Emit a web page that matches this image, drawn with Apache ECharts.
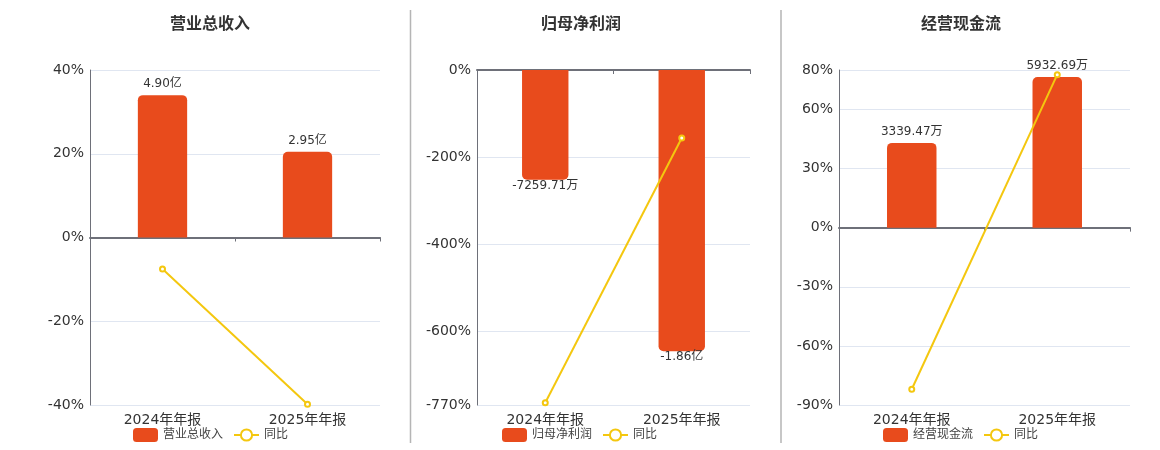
<!DOCTYPE html>
<html>
<head>
<meta charset="utf-8">
<script src="https://cdn.jsdelivr.net/npm/echarts@6/dist/echarts.min.js"></script>
<style>html,body{margin:0;padding:0;background:#fff}#c{width:1160px;height:450px}</style>
</head>
<body>
<div id="c"></div>
<script>
var categories = ['2024年年报', '2025年年报'];
var titles = ['营业总收入', '归母净利润', '经营现金流'];
// bar values in 万元
var revenue = [49000, 29500];
var netProfit = [-7259.71, -18600];
var cashFlow = [3339.47, 5932.69];
// year-on-year growth, %
var revenueYoy = [-7.5, -39.8];
var netProfitYoy = [-765, -156.2];
var cashFlowYoy = [-82, 77.65];
// percent axis ranges
var pctMin = [-40, -770, -90];
var pctMax = [40, 0, 80];

var FONT = 'DejaVu Sans, "Noto Sans CJK SC", sans-serif';
var BAR = '#E84B1C', LINE = '#F4C70F';

function fmtMoney(v) {
  if (Math.abs(v) >= 10000) return (v / 10000).toFixed(2) + '亿';
  return v.toFixed(2) + '万';
}

var panels = [
  {bars: revenue, yoy: revenueYoy, grid: {left: 90, right: 780}, bmin: -57650, bmax: 57650, tx: 205, lx: 128},
  {bars: netProfit, yoy: netProfitYoy, grid: {left: 477, right: 410}, bmin: -22150, bmax: 0, tx: 576, lx: 497},
  {bars: cashFlow, yoy: cashFlowYoy, grid: {left: 839, right: 30}, bmin: -6990, bmax: 6213, tx: 956, lx: 878}
];

var option = {
  animation: false,
  textStyle: {fontFamily: FONT},
  title: [], legend: [], grid: [], xAxis: [], yAxis: [], series: [],
  graphic: [
    {type: 'line', shape: {x1: 410.5, y1: 10, x2: 410.5, y2: 443}, style: {stroke: '#b5b5b5', lineWidth: 1.5}},
    {type: 'line', shape: {x1: 781, y1: 10, x2: 781, y2: 443}, style: {stroke: '#b5b5b5', lineWidth: 1.5}}
  ]
};

panels.forEach(function (p, i) {
  option.title.push({
    text: titles[i], left: p.tx, top: 12, textAlign: 'center',
    textStyle: {fontSize: 16, fontWeight: 'bold', color: '#333', fontFamily: FONT}
  });
  option.legend.push({
    left: p.lx, top: 423, itemWidth: 25, itemHeight: 14, itemGap: 10,
    textStyle: {fontSize: 12, color: '#444', fontFamily: FONT},
    data: [{name: titles[i], icon: 'roundRect'}, {name: '同比'}]
  });
  option.grid.push({left: p.grid.left, right: p.grid.right, top: 70, bottom: 45});
  // label axis at bottom
  option.xAxis.push({
    type: 'category', gridIndex: i, data: categories, position: 'bottom',
    axisLine: {show: false, onZero: false}, axisTick: {show: false},
    axisLabel: {fontSize: 14, color: '#333', margin: 8, fontFamily: FONT}
  });
  // zero line axis
  option.xAxis.push({
    type: 'category', gridIndex: i, data: categories, position: 'bottom',
    axisLine: {show: true, onZero: true, onZeroAxisIndex: i * 2, lineStyle: {color: '#6E7079', width: 2}},
    axisTick: {show: true, length: 4, lineStyle: {color: '#6E7079'}},
    axisLabel: {show: false}
  });
  option.yAxis.push({
    type: 'value', gridIndex: i, min: pctMin[i], max: pctMax[i],
    axisLine: {show: true, lineStyle: {color: '#6E7079'}},
    axisTick: {show: false},
    axisLabel: {formatter: '{value}%', fontSize: 14, color: '#333', margin: 6, fontFamily: FONT},
    splitLine: {lineStyle: {color: '#E0E6F1'}}
  });
  option.yAxis.push({
    type: 'value', gridIndex: i, min: p.bmin, max: p.bmax, show: false,
    splitLine: {show: false}
  });
  var neg = p.bars[0] < 0;
  option.series.push({
    name: titles[i], type: 'bar', xAxisIndex: i * 2, yAxisIndex: i * 2 + 1,
    data: p.bars, barWidth: '34%',
    itemStyle: {color: BAR, borderRadius: neg ? [0, 0, 5, 5] : [5, 5, 0, 0]},
    label: {
      show: true, position: neg ? 'bottom' : 'top', distance: neg ? 0 : 5,
      fontSize: 12, color: '#333', fontFamily: FONT,
      formatter: function (d) { return fmtMoney(d.value); }
    }
  });
  option.series.push({
    name: '同比', type: 'line', xAxisIndex: i * 2, yAxisIndex: i * 2,
    data: p.yoy, symbol: 'emptyCircle', symbolSize: 5,
    lineStyle: {color: LINE, width: 2},
    itemStyle: {color: LINE, borderWidth: 1.5}
  });
});

var chart = echarts.init(document.getElementById('c'));
chart.setOption(option);
</script>
</body>
</html>
